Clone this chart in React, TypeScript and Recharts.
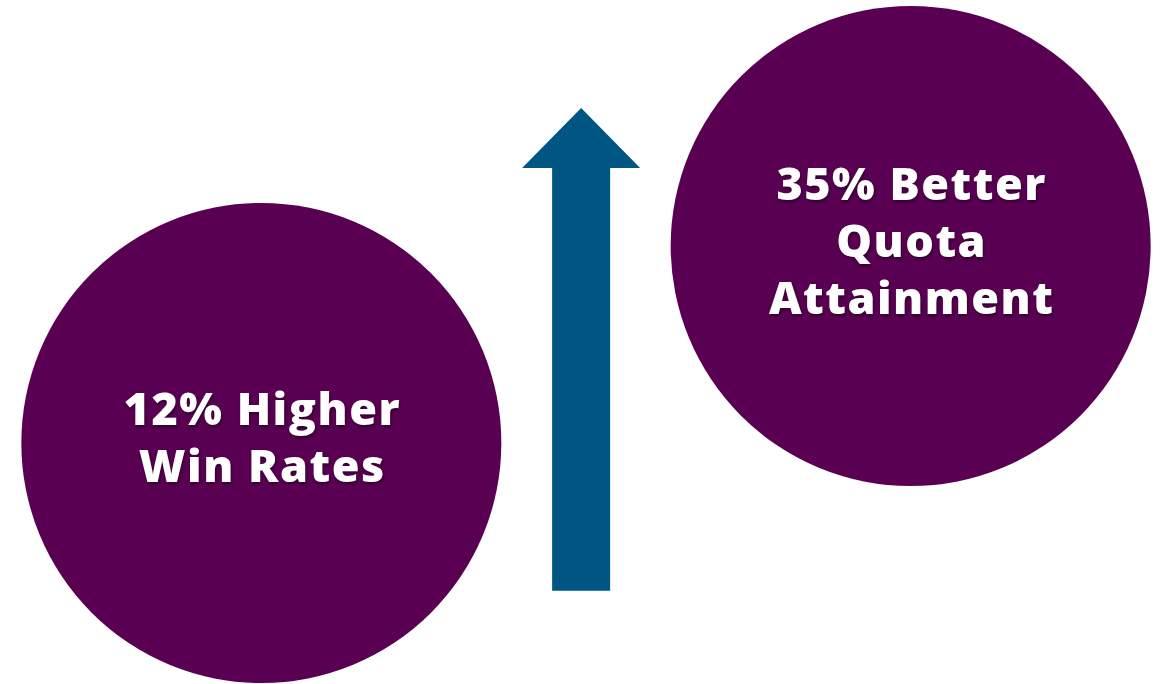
import { ComposedChart, Scatter, Bar, XAxis, YAxis } from "recharts";

// steps of the graphic, left to right
const steps = ["win", "lift", "quota"];
// circle level on the hidden y axis (null = no circle)
const circleLevels = [1, null, 2];
// arrow range on the same axis
const arrowRanges = [null, [0.25, 2.7], null];
const labelLines = [["12% Higher", "Win Rates"], [], ["35% Better", "Quota", "Attainment"]];

const data = steps.map((s, i) => ({
    step: s,
    level: circleLevels[i],
    arrow: arrowRanges[i],
    lines: labelLines[i],
}));

const PURPLE = "#590052";
const BLUE = "#005682";
const RADIUS = 240;
const LINE_H = 57;

function CircleShape(props: any) {
    const { cx, cy, payload } = props;
    if (payload.level == null || cx == null || cy == null) return null;
    const lines: string[] = payload.lines;
    const startY = cy - 7 - ((lines.length - 1) * LINE_H) / 2;
    return (
        <g>
            <circle cx={cx} cy={cy} r={RADIUS} fill={PURPLE} />
            <g style={{ filter: "drop-shadow(1px 2px 1.5px rgba(0,0,0,0.45))" }}>
                {lines.map((l, i) => (
                    <text
                        key={i}
                        x={cx + 1}
                        y={startY + i * LINE_H}
                        textAnchor="middle"
                        dominantBaseline="central"
                        fill="#ffffff"
                        fontFamily="'Open Sans', Inter, sans-serif"
                        fontWeight={800}
                        fontSize={45}
                        letterSpacing={1.5}
                    >
                        {l}
                    </text>
                ))}
            </g>
        </g>
    );
}

function ArrowShape(props: any) {
    const { x, y, width, height, payload } = props;
    if (!payload.arrow || !height) return null;
    const mid = x + width / 2 - 5;
    const shaft = 29;
    const head = 59;
    const headH = 60;
    const bottom = y + height;
    const pts = [
        [mid - shaft, bottom],
        [mid - shaft, y + headH],
        [mid - head, y + headH],
        [mid, y],
        [mid + head, y + headH],
        [mid + shaft, y + headH],
        [mid + shaft, bottom],
    ]
        .map((p) => p.join(","))
        .join(" ");
    return <polygon points={pts} fill={BLUE} />;
}

export default function App() {
    return (
        <div style={{ position: "absolute", left: 0, top: 0, background: "#fff" }}>
            <ComposedChart
                width={1162}
                height={684}
                data={data}
                margin={{ top: 49, right: 89, bottom: 44, left: 99 }}
            >
                <XAxis dataKey="step" type="category" hide />
                <YAxis type="number" domain={[0, 3]} hide />
                <Bar dataKey="arrow" shape={ArrowShape} isAnimationActive={false} />
                <Scatter dataKey="level" shape={CircleShape} isAnimationActive={false} />
            </ComposedChart>
        </div>
    );
}
